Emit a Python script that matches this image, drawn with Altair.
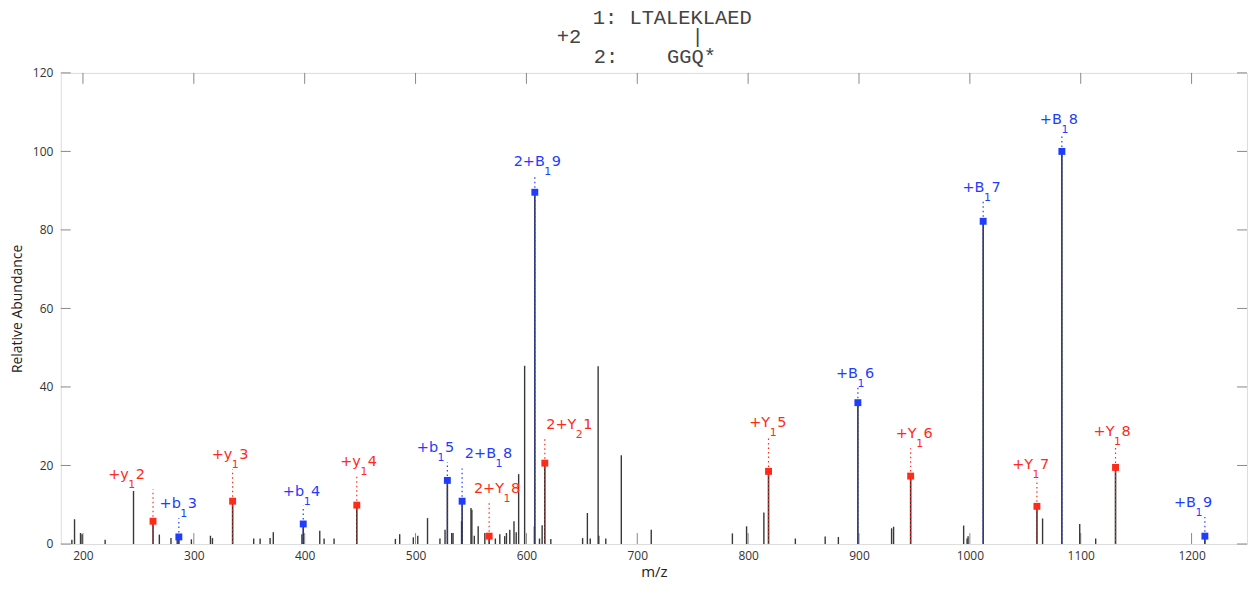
import altair as alt
import pandas as pd

# ---- unannotated peaks (m/z, relative abundance) ----
peak_mz = [190.0, 192.4, 197.8, 199.2, 220.0, 245.6, 268.9, 279.4, 285.0, 297.8,
           315.0, 316.8, 354.0, 359.8, 368.8, 371.7, 397.5, 413.6, 417.5, 426.5,
           481.8, 485.7, 498.0, 502.0, 510.8, 522.0, 526.6, 532.6, 533.8, 541.5,
           550.0, 550.8, 553.0, 556.5, 562.5, 572.0, 576.0, 580.4, 582.0, 585.0,
           588.8, 590.8, 593.0, 598.4, 607.2, 611.8, 614.2, 622.0, 650.7, 655.0,
           657.6, 664.7, 665.3, 671.6, 685.6, 712.6, 785.8, 798.6, 814.2, 842.6,
           869.5, 881.4, 929.4, 931.2, 994.4, 997.5, 998.4, 1065.6, 1099.1, 1113.5]
peak_int = [1.1, 6.3, 2.8, 2.5, 1.1, 13.5, 2.4, 1.5, 1.6, 1.2,
            2.1, 1.5, 1.4, 1.4, 1.5, 3.0, 2.5, 3.4, 1.4, 1.4,
            1.3, 2.5, 1.7, 2.1, 6.6, 1.4, 3.6, 2.8, 2.8, 5.9,
            9.2, 8.7, 2.1, 4.5, 2.8, 1.4, 2.5, 2.0, 2.8, 3.6,
            5.8, 3.0, 17.8, 45.4, 4.5, 1.4, 4.8, 1.3, 1.5, 7.9,
            1.4, 45.3, 2.1, 1.4, 22.6, 3.6, 2.7, 4.5, 8.0, 1.4,
            1.9, 1.8, 4.0, 4.4, 4.7, 1.4, 2.0, 6.5, 5.1, 1.4]

# ---- annotated fragment ions ----
ion_prefix = ["+y", "+b", "+y", "+b", "+y", "+b", "2+B", "2+Y", "2+B", "2+Y",
              "+Y", "+B", "+Y", "+B", "+Y", "+B", "+Y", "+B"]
ion_sub = ["1", "1", "1", "1", "1", "1", "1", "1", "1", "2",
           "1", "1", "1", "1", "1", "1", "1", "1"]
ion_num = ["2", "3", "3", "4", "4", "5", "8", "8", "9", "1",
           "5", "6", "6", "7", "7", "8", "8", "9"]
ion_kind = ["y", "b", "y", "b", "y", "b", "b", "y", "b", "y",
            "y", "b", "y", "b", "y", "b", "y", "b"]
ion_mz = [263.2, 286.5, 335.0, 398.7, 447.0, 528.7, 542.0, 566.4, 607.6, 616.6,
          818.4, 899.0, 946.6, 1012.0, 1060.5, 1083.0, 1131.4, 1212.0]
ion_int = [5.8, 1.8, 10.9, 5.1, 9.9, 16.2, 10.9, 2.0, 89.6, 20.6,
           18.5, 36.0, 17.3, 82.2, 9.6, 100.0, 19.5, 2.0]
label_mz = [244.1, 291.0, 337.4, 402.2, 453.4, 523.0, 575.3, 582.5, 619.3, 647.7,
            822.6, 901.8, 954.7, 1015.9, 1059.7, 1085.7, 1133.2, 1206.7]
label_int = [16.5, 9.1, 21.6, 12.3, 19.9, 23.4, 21.8, 12.9, 96.2, 29.2,
             29.9, 42.4, 26.9, 89.7, 19.0, 107.1, 27.5, 9.4]

x_ticks = [200, 300, 400, 500, 600, 700, 800, 900, 1000, 1100, 1200]
y_ticks = [0, 20, 40, 60, 80, 100, 120]

NB = "\u00a0"
title_line1 = "1:" + NB + "LTALEKLAED"
title_line2 = "+2" + NB * 9 + "|"
title_line3 = "2:" + NB * 4 + "GGQ*"

W, H = 1191, 473

peaks = pd.DataFrame({"mz": peak_mz, "int": peak_int})
ions = pd.DataFrame({"mz": ion_mz, "int": ion_int, "kind": ion_kind,
                     "pre": ion_prefix, "sub": ion_sub, "num": ion_num,
                     "lmz": label_mz, "lint": label_int})
xt = pd.DataFrame({"v": x_ticks})
yt = pd.DataFrame({"v": y_ticks})

xs = alt.Scale(domain=[180, 1250], nice=False, zero=False)
ys = alt.Scale(domain=[0, 120], nice=False)
FONT = "Open Sans"
LFONT = "DejaVu Sans"
xaxis = alt.Axis(values=x_ticks, format="d", grid=False, ticks=False, domain=False,
                 labelFont=FONT, labelFontSize=12, labelColor="#333",
                 labelPadding=7, title="m/z", titleFont=FONT, titleFontSize=15,
                 titleFontWeight="normal", titleColor="#222", titlePadding=3)
yaxis = alt.Axis(values=y_ticks, grid=False, ticks=False, domain=False,
                 labelFont=FONT, labelFontSize=12, labelColor="#333",
                 labelPadding=8, title="Relative Abundance", titleFont=FONT,
                 titleFontSize=14, titleFontWeight="normal", titleColor="#222",
                 titlePadding=8)


def X(field):
    return alt.X(f"{field}:Q", scale=xs, axis=xaxis)


def Y(field):
    return alt.Y(f"{field}:Q", scale=ys, axis=yaxis)


col = alt.Color("kind:N", scale=alt.Scale(domain=["b", "y"], range=["#1f3cff", "#ff2a1a"]),
                legend=None)

stem_black = alt.Chart(peaks).mark_rule(color="#383838", strokeWidth=1.4).encode(
    x=X("mz"), y=Y("int"), y2=alt.datum(0))
ion_black = alt.Chart(ions).mark_rule(color="#333", strokeWidth=1.6).encode(
    x=X("mz"), y=Y("int"), y2=alt.datum(0))
ion_dots = alt.Chart(ions).mark_rule(strokeWidth=1.2, strokeDash=[1.5, 2.5]).encode(
    x=X("mz"), y=Y("int"), y2=alt.datum(0), color=col)
connector = alt.Chart(ions).mark_rule(strokeWidth=1.2, strokeDash=[1.5, 3], y2Offset=10).encode(
    x=X("mz"), y=Y("int"), y2=alt.Y2("lint:Q"), color=col)
markers = alt.Chart(ions).mark_square(size=48, opacity=1, filled=True).encode(
    x=X("mz"), y=Y("int"), color=col)
lab_pre = alt.Chart(ions).mark_text(align="right", baseline="alphabetic", dx=-3,
                                    font=LFONT, fontSize=14.5).encode(
    x=X("lmz"), y=Y("lint"), text="pre:N", color=col)
lab_sub = alt.Chart(ions).mark_text(align="center", baseline="alphabetic", dy=9,
                                    font=LFONT, fontSize=11).encode(
    x=X("lmz"), y=Y("lint"), text="sub:N", color=col)
lab_num = alt.Chart(ions).mark_text(align="left", baseline="alphabetic", dx=4,
                                    font=LFONT, fontSize=14.5).encode(
    x=X("lmz"), y=Y("lint"), text="num:N", color=col)

TK = "#888"
xt_bot = alt.Chart(xt).mark_rule(color=TK, strokeWidth=1).encode(
    x=X("v"), y=alt.value(H), y2=alt.value(H - 11))
xt_top = alt.Chart(xt).mark_rule(color=TK, strokeWidth=1).encode(
    x=X("v"), y=alt.value(0), y2=alt.value(11))
yt_left = alt.Chart(yt).mark_rule(color=TK, strokeWidth=1).encode(
    y=Y("v"), x=alt.value(0), x2=alt.value(10))
yt_right = alt.Chart(yt).mark_rule(color=TK, strokeWidth=1).encode(
    y=Y("v"), x=alt.value(W - 10), x2=alt.value(W))

MONO = dict(font="Liberation Mono", fontSize=20.5, align="left", baseline="alphabetic",
            color="#444")


def title_text(line, px, py):
    return alt.Chart(pd.DataFrame({"t": [line]})).mark_text(**MONO).encode(
        text="t:N", x=alt.value(px), y=alt.value(py))


t1 = title_text(title_line1, 534, -49)
t2 = title_text(title_line2, 498, -30)
t3 = title_text(title_line3, 535, -10)

chart = alt.layer(
    xt_bot, xt_top, yt_left, yt_right,
    stem_black, ion_black, ion_dots, connector, markers, lab_pre, lab_sub, lab_num,
    t1, t2, t3,
).properties(
    width=W, height=H,
    autosize=alt.AutoSizeParams(type="none"),
    padding={"left": 53, "top": 64, "right": 2, "bottom": 39},
).configure_view(stroke="#888", strokeWidth=1).configure(background="white")

chart.save("out.html", embed_options={"renderer": "svg", "actions": False})
